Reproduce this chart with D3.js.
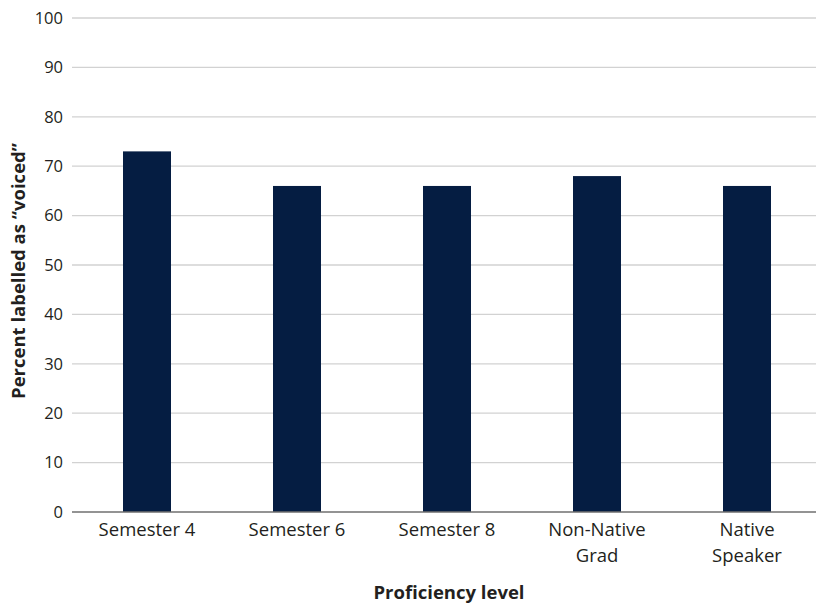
<!DOCTYPE html>
<html>
<head>
<meta charset="utf-8">
<script src="https://cdn.jsdelivr.net/npm/d3@7"></script>
<style>
  html, body { margin: 0; padding: 0; background: #fff; }
  svg { display: block; }
  text { font-family: "Open Sans", "Noto Sans", sans-serif; fill: #231f20; }
</style>
</head>
<body>
<svg id="chart" width="816" height="604"></svg>
<script>
// Proficiency groups and share of tokens labelled "voiced"
const categories = [["Semester 4"], ["Semester 6"], ["Semester 8"], ["Non-Native", "Grad"], ["Native", "Speaker"]];
const values = [73, 66, 66, 68, 66];
const yTicks = [0, 10, 20, 30, 40, 50, 60, 70, 80, 90, 100];
const xTitle = "Proficiency level";
const yTitle = "Percent labelled as \u201cvoiced\u201d";

const svg = d3.select("#chart");
const plotLeft = 72, plotRight = 822, plotTop = 18, plotBottom = 512;

const x = d3.scaleBand()
  .domain(categories.map((d, i) => i))
  .range([plotLeft, plotRight])
  .paddingInner(0.68)
  .paddingOuter(0.34);

const y = d3.scaleLinear().domain([0, 100]).range([plotBottom, plotTop]);

// horizontal gridlines
svg.append("g")
  .selectAll("line")
  .data(yTicks.filter(t => t > 0))
  .join("line")
  .attr("x1", plotLeft).attr("x2", 816)
  .attr("y1", d => y(d)).attr("y2", d => y(d))
  .attr("stroke", "#d2d2d2").attr("stroke-width", 1.3);

// y tick labels
svg.append("g")
  .selectAll("text")
  .data(yTicks)
  .join("text")
  .attr("x", 63)
  .attr("y", d => y(d))
  .attr("dy", "0.35em")
  .attr("text-anchor", "end")
  .attr("font-size", 16.5)
  .text(d => d);

// bars
svg.append("g")
  .selectAll("rect")
  .data(values)
  .join("rect")
  .attr("x", (d, i) => x(i))
  .attr("width", x.bandwidth())
  .attr("y", d => y(d))
  .attr("height", d => y(0) - y(d))
  .attr("fill", "#051d42");

// baseline
svg.append("line")
  .attr("x1", plotLeft).attr("x2", 816)
  .attr("y1", y(0)).attr("y2", y(0))
  .attr("stroke", "#6f6f6f").attr("stroke-width", 1.3);

// category labels
const cat = svg.append("g")
  .selectAll("text")
  .data(categories)
  .join("text")
  .attr("text-anchor", "middle")
  .attr("font-size", 18.5)
  .attr("transform", (d, i) => `translate(${x(i) + x.bandwidth() / 2},536)`);
cat.selectAll("tspan")
  .data(d => d)
  .join("tspan")
  .attr("x", 0)
  .attr("y", (d, j) => j * 26)
  .text(d => d);

// axis titles
svg.append("text")
  .attr("x", 449).attr("y", 599)
  .attr("text-anchor", "middle")
  .attr("font-size", 18.5).attr("font-weight", "bold")
  .text(xTitle);

svg.append("text")
  .attr("transform", "translate(25,271) rotate(-90)")
  .attr("text-anchor", "middle")
  .attr("font-size", 18.5).attr("font-weight", "bold")
  .text(yTitle);
</script>
</body>
</html>
